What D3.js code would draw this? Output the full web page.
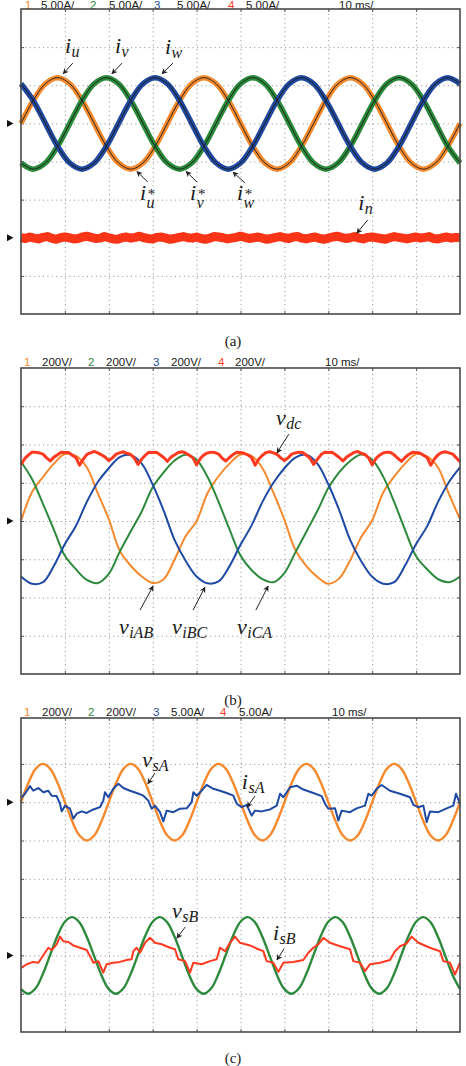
<!DOCTYPE html>
<html>
<head>
<meta charset="utf-8">
<script src="https://cdn.jsdelivr.net/npm/d3@7"></script>
<style>
  body { margin: 0; background: #fff; }
  .math { font-family: "Liberation Serif", "DejaVu Serif", serif; font-style: italic; fill: #1a1a1a; }
</style>
</head>
<body>
<script>
// ---- data (values in scope divisions, time in divisions of 10 ms) ----

// (a) phase currents + references, sampled every 10/36 div
const iU = [1, 1.6, 2.04, 2.2, 2.04, 1.6, 1, 0.4, -0.04, -0.2, -0.04, 0.4,
            1, 1.6, 2.04, 2.2, 2.04, 1.6, 1, 0.4, -0.04, -0.2, -0.04, 0.4,
            1, 1.6, 2.04, 2.2, 2.04, 1.6, 1, 0.4, -0.04, -0.2, -0.04, 0.4, 1];
const iV = [-0.04, -0.2, -0.04, 0.4, 1, 1.6, 2.04, 2.2, 2.04, 1.6, 1, 0.4,
            -0.04, -0.2, -0.04, 0.4, 1, 1.6, 2.04, 2.2, 2.04, 1.6, 1, 0.4,
            -0.04, -0.2, -0.04, 0.4, 1, 1.6, 2.04, 2.2, 2.04, 1.6, 1, 0.4, -0.04];
const iW = [2.04, 1.6, 1, 0.4, -0.04, -0.2, -0.04, 0.4, 1, 1.6, 2.04, 2.2,
            2.04, 1.6, 1, 0.4, -0.04, -0.2, -0.04, 0.4, 1, 1.6, 2.04, 2.2,
            2.04, 1.6, 1, 0.4, -0.04, -0.2, -0.04, 0.4, 1, 1.6, 2.04, 2.2, 2.04];
// neutral current, every 0.1 div
const iN = [-2.00, -2.02, -1.98, -2.01, -2.03, -1.99, -1.97, -2.01, -2.04, -2.00,
            -1.98, -2.00, -2.03, -2.02, -1.98, -1.96, -1.99, -2.02, -2.01, -1.97,
            -2.00, -2.03, -2.04, -2.00, -1.98, -2.01, -1.99, -1.96, -2.00, -2.02,
            -2.03, -1.99, -1.98, -2.01, -2.04, -2.02, -1.99, -1.97, -2.00, -2.01,
            -1.98, -2.02, -2.04, -2.01, -1.97, -1.98, -2.00, -2.03, -2.01, -1.99,
            -1.96, -1.99, -2.02, -2.00, -1.98, -2.01, -2.04, -2.02, -1.99, -1.97,
            -2.00, -2.02, -1.98, -1.97, -2.01, -2.03, -2.00, -1.98, -2.02, -2.04,
            -2.01, -1.98, -1.96, -1.99, -2.02, -2.00, -1.97, -2.01, -2.03, -1.99,
            -1.98, -2.00, -2.02, -2.04, -2.00, -1.97, -1.99, -2.01, -2.03, -2.00,
            -1.98, -2.01, -1.99, -1.97, -2.02, -2.03, -2.00, -1.98, -2.01, -1.99, -2.00];

// (b) line voltages, every 0.25 div
const vAB = [0, 0.75, 1.15, 1.5, 1.75, 1.7, 1.4, 0.72, 0.05, -0.78, -1.17, -1.45, -1.62, -1.52, -1.0, -0.4,
             0, 0.73, 1.17, 1.5, 1.74, 1.7, 1.38, 0.74, 0.03, -0.76, -1.18, -1.46, -1.64, -1.5, -1.02, -0.42,
             0.02, 0.74, 1.16, 1.5, 1.75, 1.69, 1.4, 0.7, 0.05];
const vBC = [1.55, 1.1, 0.45, -0.23, -0.91, -1.26, -1.54, -1.62, -1.38, -0.8, -0.27, 0.25, 0.88, 1.27, 1.58, 1.73,
             1.6, 1.15, 0.5, -0.22, -0.9, -1.28, -1.52, -1.6, -1.36, -0.82, -0.28, 0.26, 0.86, 1.28, 1.57, 1.74,
             1.6, 1.16, 0.5, -0.24, -0.92, -1.26, -1.52, -1.6, -1.45];
const vCA = [-1.45, -1.64, -1.6, -1.17, -0.6, -0.13, 0.5, 1.02, 1.38, 1.67, 1.72, 1.5, 0.95, 0.27, -0.5, -1.04,
             -1.45, -1.63, -1.58, -1.18, -0.62, -0.12, 0.5, 1.0, 1.38, 1.66, 1.73, 1.5, 0.96, 0.28, -0.5, -1.05,
             -1.46, -1.64, -1.6, -1.16, -0.6, -0.14, 0.5, 1.02, 1.4];
// dc-link voltage, every 1/12 div
const vDC = [1.47, 1.63, 1.72, 1.80, 1.80, 1.78, 1.75, 1.65,  1.57, 1.67, 1.73, 1.80, 1.79, 1.79, 1.72, 1.66,
             1.46, 1.61, 1.74, 1.78, 1.82, 1.78, 1.73, 1.67,  1.58, 1.65, 1.75, 1.78, 1.81, 1.77, 1.74, 1.64,
             1.48, 1.62, 1.72, 1.80, 1.79, 1.80, 1.73, 1.66,  1.56, 1.67, 1.73, 1.79, 1.81, 1.78, 1.72, 1.65,
             1.47, 1.63, 1.73, 1.78, 1.80, 1.79, 1.75, 1.64,  1.57, 1.66, 1.74, 1.80, 1.79, 1.77, 1.73, 1.66,
             1.46, 1.62, 1.72, 1.79, 1.81, 1.78, 1.74, 1.65,  1.58, 1.65, 1.75, 1.78, 1.80, 1.79, 1.72, 1.64,
             1.48, 1.61, 1.73, 1.80, 1.79, 1.80, 1.73, 1.66,  1.57, 1.67, 1.73, 1.79, 1.82, 1.77, 1.74, 1.65,
             1.47, 1.63, 1.72, 1.78, 1.80, 1.79, 1.73, 1.64,  1.56, 1.66, 1.74, 1.80, 1.79, 1.78, 1.72, 1.66,
             1.46, 1.62, 1.73, 1.79, 1.81, 1.78, 1.75, 1.65,  1.55];

// (c) grid voltages, every 1/6 div
const vSA = [2, 2.5, 2.87, 3, 2.87, 2.5, 2, 1.5, 1.13, 1, 1.13, 1.5,
             2, 2.5, 2.87, 3, 2.87, 2.5, 2, 1.5, 1.13, 1, 1.13, 1.5,
             2, 2.5, 2.87, 3, 2.87, 2.5, 2, 1.5, 1.13, 1, 1.13, 1.5,
             2, 2.5, 2.87, 3, 2.87, 2.5, 2, 1.5, 1.13, 1, 1.13, 1.5,
             2, 2.5, 2.87, 3, 2.87, 2.5, 2, 1.5, 1.13, 1, 1.13, 1.5, 2];
const vSB = [-2.88, -3.0, -2.86, -2.48, -1.98, -1.48, -1.12, -1.0, -1.14, -1.52, -2.02, -2.52,
             -2.88, -3.0, -2.86, -2.48, -1.98, -1.48, -1.12, -1.0, -1.14, -1.52, -2.02, -2.52,
             -2.88, -3.0, -2.86, -2.48, -1.98, -1.48, -1.12, -1.0, -1.14, -1.52, -2.02, -2.52,
             -2.88, -3.0, -2.86, -2.48, -1.98, -1.48, -1.12, -1.0, -1.14, -1.52, -2.02, -2.52,
             -2.88, -3.0, -2.86, -2.48, -1.98, -1.48, -1.12, -1.0, -1.14, -1.52, -2.02, -2.52, -2.88];
// grid currents (time, value) read point by point
const iSA_t = [0.015, 0.09, 0.205, 0.28, 0.395, 0.51, 0.623, 0.699, 0.812, 0.888, 0.926, 1.002, 1.116, 1.192, 1.268,
               1.382, 1.496, 1.648, 1.8, 1.875, 1.913, 1.989, 2.103, 2.217, 2.331, 2.483, 2.635, 2.787, 2.9, 2.977,
               3.052, 3.166, 3.242, 3.318, 3.47, 3.622, 3.774, 3.888, 3.926, 4.002, 4.115, 4.229, 4.381, 4.533, 4.685,
               4.837, 4.913, 5.027, 5.141, 5.254, 5.33, 5.482, 5.672, 5.824, 5.9, 5.976, 6.128, 6.279, 6.431, 6.659,
               6.849, 6.925, 7.001, 7.153, 7.228, 7.305, 7.494, 7.646, 7.836, 7.912, 7.988, 8.102, 8.216, 8.405, 8.633,
               8.861, 8.937, 9.051, 9.165, 9.241, 9.317, 9.507, 9.696, 9.848, 9.909, 10.0];
const iSA_v = [2.13, 2.22, 2.42, 2.3, 2.37, 2.26, 2.3, 2.17, 2.16, 1.96, 1.76, 1.91, 1.83, 1.57, 1.7,
               1.76, 1.72, 1.81, 1.87, 2.04, 2.26, 2.13, 2.35, 2.48, 2.37, 2.3, 2.24, 2.17, 2.04, 1.83,
               1.91, 1.74, 1.5, 1.78, 1.74, 1.83, 1.84, 2.0, 2.26, 2.17, 2.3, 2.45, 2.35, 2.3, 2.24,
               2.17, 1.96, 1.87, 1.93, 1.65, 1.78, 1.76, 1.81, 1.91, 2.22, 2.13, 2.39, 2.43, 2.33, 2.24,
               2.16, 1.96, 1.83, 1.84, 1.52, 1.78, 1.74, 1.84, 1.91, 2.22, 2.17, 2.35, 2.45, 2.3, 2.22,
               2.13, 1.93, 1.87, 1.91, 1.48, 1.76, 1.74, 1.84, 1.91, 2.22, 1.96];
const iSB_t = [0.015, 0.13, 0.28, 0.395, 0.47, 0.547, 0.623, 0.699, 0.812, 0.888, 0.964, 1.078, 1.192, 1.344, 1.496,
               1.572, 1.648, 1.762, 1.875, 1.951, 2.103, 2.255, 2.407, 2.521, 2.559, 2.635, 2.711, 2.825, 2.938, 3.052,
               3.204, 3.394, 3.508, 3.584, 3.736, 3.85, 3.926, 4.115, 4.305, 4.457, 4.533, 4.647, 4.761, 4.875, 4.989,
               5.216, 5.406, 5.52, 5.596, 5.748, 5.862, 5.976, 6.203, 6.431, 6.545, 6.659, 6.773, 6.887, 7.039, 7.267,
               7.494, 7.57, 7.722, 7.836, 7.95, 8.178, 8.405, 8.519, 8.633, 8.785, 8.899, 9.051, 9.317, 9.544, 9.62,
               9.772, 9.886, 10.0];
const iSB_v = [-2.32, -2.23, -2.17, -2.19, -2.06, -1.93, -1.8, -1.86, -1.71, -1.51, -1.63, -1.65, -1.74, -1.8, -1.86,
               -2.02, -2.19, -2.15, -2.45, -2.23, -2.19, -2.17, -2.12, -2.1, -1.89, -1.8, -1.93, -1.67, -1.54, -1.67,
               -1.71, -1.8, -1.84, -2.1, -2.15, -2.45, -2.19, -2.23, -2.15, -2.1, -1.8, -1.89, -1.67, -1.51, -1.67,
               -1.74, -1.84, -1.89, -2.15, -2.19, -2.43, -2.19, -2.17, -2.12, -1.93, -1.8, -1.71, -1.54, -1.67, -1.76,
               -1.84, -2.15, -2.19, -2.41, -2.23, -2.19, -2.12, -1.89, -1.76, -1.69, -1.51, -1.67, -1.8, -1.89, -2.15,
               -2.19, -2.5, -2.19];

// scope header labels
const headA = ['5.00A/', '5.00A/', '5.00A/', '5.00A/'];
const headB = ['200V/', '200V/', '200V/', '200V/'];
const headC = ['200V/', '200V/', '5.00A/', '5.00A/'];
const timeBase = '10 ms/';

const ORANGE = '#F5892E', GREEN = '#2D8A3D', BLUE = '#1F4AA3', RED = '#FF3A20';
const chColors = [ORANGE, GREEN, BLUE, RED];

// ---- drawing ----
const svg = d3.select('body').append('svg')
  .attr('width', 466)
  .attr('height', 1066)
  .style('font-family', '"Liberation Sans", Arial, sans-serif');

svg.append('defs').append('marker')
  .attr('id', 'arr')
  .attr('viewBox', '0 0 10 10')
  .attr('refX', 9).attr('refY', 5)
  .attr('markerWidth', 6).attr('markerHeight', 6)
  .attr('markerUnits', 'userSpaceOnUse')
  .attr('orient', 'auto')
  .append('path')
  .attr('d', 'M0,0 L10,5 L0,10 L3,5 Z')
  .attr('fill', '#222');

const x = d3.scaleLinear().domain([0, 10]).range([21, 460]);

function drawPanel(p) {
  const y = d3.scaleLinear().domain([-4, 4]).range([p.bottom, p.bottom - 8 * p.div]);
  const g = svg.append('g');

  // dotted grid
  g.append('g')
    .attr('transform', `translate(0,${p.bottom})`)
    .call(d3.axisBottom(x).tickValues(d3.range(1, 10)).tickSize(-(p.bottom - p.top)).tickFormat(''))
    .call(s => s.select('.domain').remove())
    .selectAll('line').attr('stroke', '#8a8a8a').attr('stroke-dasharray', '1,3.4');
  g.append('g')
    .attr('transform', `translate(${x(0)},0)`)
    .call(d3.axisLeft(y).tickValues(d3.range(-3, 4)).tickSize(-(x(10) - x(0))).tickFormat(''))
    .call(s => s.select('.domain').remove())
    .selectAll('line').attr('stroke', '#8a8a8a').attr('stroke-dasharray', '1,3.4');

  // short ticks on the frame
  [[d3.axisBottom(x), `translate(0,${p.bottom})`, d3.range(1, 10)],
   [d3.axisTop(x), `translate(0,${p.top})`, d3.range(1, 10)],
   [d3.axisLeft(y), `translate(${x(0)},0)`, d3.range(-3, 4)],
   [d3.axisRight(y), `translate(${x(10)},0)`, d3.range(-3, 4)]].forEach(([ax, tr, tv]) => {
    g.append('g')
      .attr('transform', tr)
      .call(ax.tickValues(tv).tickSize(-3).tickFormat(''))
      .call(s => s.select('.domain').remove())
      .selectAll('line').attr('stroke', '#555');
  });

  // header
  const head = g.append('g');
  p.head.forEach((lab, i) => {
    head.append('text').attr('x', p.numX[i]).attr('y', p.headY)
      .attr('fill', chColors[i]).style('font-size', '11.5px').text(i + 1);
    head.append('text').attr('x', p.labX[i]).attr('y', p.headY)
      .attr('fill', '#1a1a1a').style('font-size', '11.5px').text(lab);
  });
  head.append('text').attr('x', p.timeX).attr('y', p.headY)
    .attr('fill', '#1a1a1a').style('font-size', '11.5px').text(timeBase);

  // channel ground markers
  p.markers.forEach(m => {
    g.append('path')
      .attr('d', `M7,${y(m) - 3.5} L13.5,${y(m)} L7,${y(m) + 3.5} Z`)
      .attr('fill', '#111');
  });

  // caption
  svg.append('text')
    .attr('x', 233).attr('y', p.capY)
    .attr('text-anchor', 'middle')
    .style('font-family', '"Liberation Serif", serif')
    .style('font-size', '15px')
    .attr('fill', '#222')
    .text(p.caption);

  p.y = y;
  p.g = g;
  return p;
}

function frame(p) {
  p.g.append('rect')
    .attr('x', x(0)).attr('y', p.top)
    .attr('width', x(10) - x(0)).attr('height', p.bottom - p.top)
    .attr('fill', 'none').attr('stroke', '#4a4a4a').attr('stroke-width', 1.6);
}

function trace(p, ts, vs, color, w, curve) {
  const line = d3.line()
    .x((d, i) => x(ts[i]))
    .y(d => p.y(d))
    .curve(curve || d3.curveLinear);
  p.g.append('path')
    .datum(vs)
    .attr('fill', 'none')
    .attr('stroke', color)
    .attr('stroke-width', w)
    .attr('stroke-linejoin', 'round')
    .attr('d', line);
}

// one text element per label: base letter, optional superscript, subscript
function label(p, a) {
  const t = p.g.append('text').attr('class', 'math')
    .attr('x', x(a.x)).attr('y', p.y(a.y)).style('font-size', '22px');
  t.append('tspan').text(a.base);
  let back = 0;
  if (a.sup) {
    const s = t.append('tspan').attr('dx', 1).attr('dy', -1).style('font-size', '15px').text(a.sup);
    back = s.node().getComputedTextLength() + 1;
  }
  if (a.sub) {
    t.append('tspan')
      .attr('dx', a.sup ? -back + 0.5 : 0.5)
      .attr('dy', a.sup ? 9 : 4)
      .style('font-size', '16px').text(a.sub);
  }
  p.g.append('line')
    .attr('x1', x(a.ax[0])).attr('y1', p.y(a.ax[1]))
    .attr('x2', x(a.ax[2])).attr('y2', p.y(a.ax[3]))
    .attr('stroke', '#222').attr('stroke-width', 1)
    .attr('marker-end', 'url(#arr)');
}

const pa = drawPanel({ top: 9, bottom: 314, div: 38.125, head: headA, headY: 8.5,
  numX: [25, 90, 154, 228], labX: [41, 109, 177, 246], timeX: 339,
  markers: [1, -2], caption: '(a)', capY: 346 });
const pb = drawPanel({ top: 368, bottom: 674, div: 38.25, head: headB, headY: 365.5,
  numX: [24, 88, 153, 218], labX: [42, 106, 171, 235], timeX: 325,
  markers: [0], caption: '(b)', capY: 705 });
const pc = drawPanel({ top: 718, bottom: 1032, div: 38.3, head: headC, headY: 715.5,
  numX: [24, 88, 153, 220], labX: [42, 106, 171, 239], timeX: 332,
  markers: [2, -2], caption: '(c)', capY: 1063 });

// (a)
const tA = d3.range(iU.length).map(i => i * 10 / 36);
const tN = d3.range(iN.length).map(i => i * 0.1);
trace(pa, tN, iN, '#FA3417', 9);
trace(pa, tA, iU, ORANGE, 5.5, d3.curveCatmullRom);
trace(pa, tA, iV, '#2B8A3A', 5.5, d3.curveCatmullRom);
trace(pa, tA, iW, '#20489C', 5.5, d3.curveCatmullRom);
[iU, iV, iW].forEach(s => trace(pa, tA, s, '#1a1a1a', 0.9, d3.curveCatmullRom));

// (b)
const tB = d3.range(vAB.length).map(i => i * 0.25);
const tD = d3.range(vDC.length).map(i => i / 12);
trace(pb, tB, vAB, ORANGE, 2, d3.curveCatmullRom);
trace(pb, tB, vBC, GREEN, 2, d3.curveCatmullRom);
trace(pb, tB, vCA, BLUE, 2, d3.curveCatmullRom);
trace(pb, tD, vDC, RED, 3);

// (c)
const tC = d3.range(vSA.length).map(i => i / 6);
trace(pc, tC, vSA, ORANGE, 2.4, d3.curveCatmullRom);
trace(pc, iSA_t, iSA_v, BLUE, 2);
trace(pc, tC, vSB, GREEN, 2.4, d3.curveCatmullRom);
trace(pc, iSB_t, iSB_v, RED, 2);

[pa, pb, pc].forEach(frame);

// annotations (positions in divisions)
[
  { base: 'i', sub: 'u', x: 1.0, y: 2.85, ax: [1.18, 2.58, 0.96, 2.3] },
  { base: 'i', sub: 'v', x: 2.14, y: 2.85, ax: [2.3, 2.58, 2.07, 2.3] },
  { base: 'i', sub: 'w', x: 3.28, y: 2.82, ax: [3.46, 2.58, 3.21, 2.3] },
  { base: 'i', sup: '*', sub: 'u', x: 2.71, y: -1.01, ax: [2.89, -0.54, 2.64, -0.26] },
  { base: 'i', sup: '*', sub: 'v', x: 3.85, y: -1.01, ax: [4.01, -0.54, 3.76, -0.26] },
  { base: 'i', sup: '*', sub: 'w', x: 4.92, y: -1.01, ax: [5.1, -0.56, 4.83, -0.28] },
  { base: 'i', sub: 'n', x: 7.68, y: -1.27, ax: [7.9, -1.53, 7.65, -1.88] }
].forEach(a => label(pa, a));

[
  { base: 'v', sub: 'dc', x: 5.81, y: 2.51, ax: [6.1, 2.27, 5.83, 1.78] },
  { base: 'v', sub: 'iAB', x: 2.23, y: -2.95, ax: [2.71, -2.33, 3.01, -1.7] },
  { base: 'v', sub: 'iBC', x: 3.44, y: -2.95, ax: [3.92, -2.33, 4.19, -1.73] },
  { base: 'v', sub: 'iCA', x: 4.92, y: -2.95, ax: [5.35, -2.33, 5.63, -1.7] }
].forEach(a => label(pb, a));

[
  { base: 'v', sub: 'sA', x: 2.76, y: 2.92, ax: [3.05, 2.76, 2.89, 2.48] },
  { base: 'i', sub: 'sA', x: 5.03, y: 2.34, ax: [5.33, 2.16, 5.15, 1.87] },
  { base: 'v', sub: 'sB', x: 3.44, y: -1.02, ax: [3.74, -1.26, 3.55, -1.55] },
  { base: 'i', sub: 'sB', x: 5.74, y: -1.6, ax: [5.99, -1.83, 5.83, -2.12] }
].forEach(a => label(pc, a));
</script>
</body>
</html>
